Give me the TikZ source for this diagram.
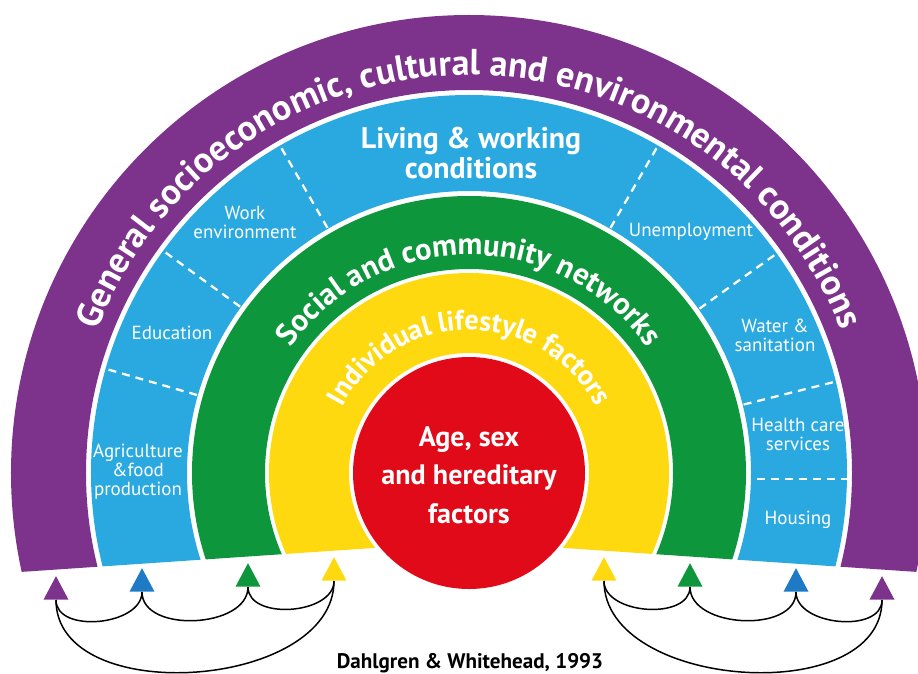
\documentclass[tikz,border=0pt]{standalone}
\usepackage{fontspec}
\setmainfont{PT Sans}
\usetikzlibrary{shapes.geometric,decorations.text}
\definecolor{dwpurple}{HTML}{7D328C}
\definecolor{dwblue}{HTML}{29A9E0}
\definecolor{dwgreen}{HTML}{0E963C}
\definecolor{dwyellow}{HTML}{FFD90F}
\definecolor{dwred}{HTML}{E10A19}
\definecolor{dwdarkblue}{HTML}{1F7AC6}
\newcommand{\band}[3]{%
 \fill [#1,even odd rule] (0,0) circle (#2) (0,0) circle (#3);%
}
\newcommand{\bandtext}[3]{%
 \path [decorate,decoration={text along path,text align=center,text color=white,
   text={|\fontsize{#2}{#2}\selectfont\bfseries|#3}}]
   (180:#1) arc [start angle=180,end angle=0,radius=#1];%
}

\begin{document}
\begin{tikzpicture}[x=0.02cm,y=0.02cm,
   smalllabel/.style={text=white,align=center,inner sep=0pt,font=\fontsize{10.8}{10.8}\selectfont},
   biglabel/.style={text=white,align=center,inner sep=0pt,font=\bfseries\fontsize{17}{15.5}\selectfont},
   sepline/.style={white,line width=1.3pt,dash pattern=on 0.16cm off 0.12cm},
   arrowhead/.style={isosceles triangle,isosceles triangle apex angle=56,shape border rotate=90,
     fill=#1,inner sep=0pt,minimum height=0.47cm,anchor=lower side},
   link/.style={black,line width=0.85pt}]
   \useasboundingbox (-469,-200) rectangle (449,473);
   \begin{scope}
    \clip (-480,-101.1) -- (0,-68.5) -- (480,-101.1) -- (480,480) -- (-480,480) -- cycle;
    \band{dwpurple}{458}{383};
    \band{dwblue}{378}{282};
    \band{dwgreen}{277}{204};
    \band{dwyellow}{200}{120};
   \end{scope}
   \fill [dwred] (0,0) circle (116);
   \foreach \a in {164,144,120,60,35.5,14}
    \draw [sepline] (\a:283) -- (\a:377);
   \draw [sepline] (288,-6) -- (378,-6);
   \bandtext{398}{20.5pt}{General socioeconomic, cultural and environmental conditions}
   \bandtext{218}{17.5pt}{Social and community networks}
   \bandtext{143}{16pt}{Individual lifestyle factors}
   \node[biglabel] (living) at (2,320) {Living \& working\\conditions};
   \node[smalllabel] (work) at (-224,251) {Work\\environment};
   \node[smalllabel] (edu) at (-297,140) {Education};
   \node[smalllabel] (agri) at (-331,1) {Agriculture\\\&food\\production};
   \node[smalllabel] (unemp) at (222,241) {Unemployment};
   \node[smalllabel] (water) at (306,138) {Water \&\\sanitation};
   \node[smalllabel] (health) at (329,39) {Health care\\services};
   \node[smalllabel] (housing) at (329,-47) {Housing};
   \node[text=white,align=center,font=\bfseries\fontsize{16}{22}\selectfont] (age) at (0,-2)
    {Age, sex\\and hereditary\\factors};
   \node[arrowhead=dwpurple] (pL) at (-413,-127) {};
   \node[arrowhead=dwdarkblue] (bL) at (-327,-119) {};
   \node[arrowhead=dwgreen] (gL) at (-221,-114) {};
   \node[arrowhead=dwyellow] (yL) at (-135,-108) {};
   \node[arrowhead=dwyellow] (yR) at (135,-108) {};
   \node[arrowhead=dwgreen] (gR) at (221,-114) {};
   \node[arrowhead=dwdarkblue] (bR) at (327,-119) {};
   \node[arrowhead=dwpurple] (pR) at (413,-127) {};
   \draw[link] (pL.lower side) to[out=-90,in=-90] (bL.lower side);
   \draw[link] (bL.lower side) to[out=-90,in=-90] (gL.lower side);
   \draw[link] (gL.lower side) to[out=-90,in=-90] (yL.lower side);
   \draw[link] (pL.lower side) to[out=-90,in=-90] (yL.lower side);
   \draw[link] (yR.lower side) to[out=-90,in=-90] (gR.lower side);
   \draw[link] (gR.lower side) to[out=-90,in=-90] (bR.lower side);
   \draw[link] (bR.lower side) to[out=-90,in=-90] (pR.lower side);
   \draw[link] (yR.lower side) to[out=-90,in=-90] (pR.lower side);
   \node[font=\bfseries\fontsize{12}{12}\selectfont] (cite) at (1,-190) {Dahlgren \& Whitehead, 1993};
\end{tikzpicture}
\end{document}
